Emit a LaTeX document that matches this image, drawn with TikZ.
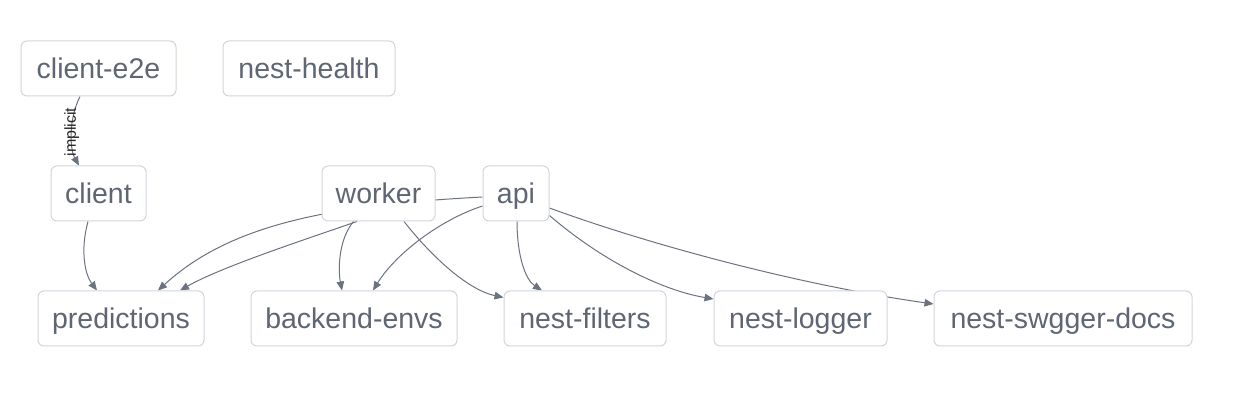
\documentclass[tikz,border=0pt]{standalone}
\usepackage{fontspec}
\setmainfont{Liberation Sans}
\usetikzlibrary{arrows.meta,backgrounds}
\definecolor{txt}{RGB}{95,102,115}
\definecolor{edgec}{RGB}{107,114,128}
\definecolor{bord}{RGB}{209,213,219}
\begin{document}
\begin{tikzpicture}[x=1pt,y=-1pt,
  box/.style={draw=bord,line width=1pt,rounded corners=6pt,fill=white,text=txt,
    font=\fontsize{28.5}{30}\selectfont,inner sep=0pt,text height=23pt,text depth=2pt,minimum height=55pt},
  conn/.style={draw=edgec,line width=1pt,-{Triangle[length=9pt,width=7.5pt]}},
  lbl/.style={font=\fontsize{16}{18}\selectfont,text=black!85,rotate=90,inner sep=0pt}]
\useasboundingbox (0,0) rectangle (1250,419);
\node[box,minimum width=155pt] (ce) at (98.5,68.5) {client-e2e};
\node[box,minimum width=172pt] (nh) at (309,68.5) {nest-health};
\node[box,minimum width=95pt] (cl) at (98.5,193.5) {client};
\node[box,minimum width=113pt] (wk) at (378.5,193.5) {worker};
\node[box,minimum width=66pt] (api) at (516,193.5) {api};
\node[box,minimum width=166pt] (pr) at (121,318.5) {predictions};
\node[box,minimum width=206pt] (be) at (354,318.5) {backend-envs};
\node[box,minimum width=162pt] (nf) at (585,318.5) {nest-filters};
\node[box,minimum width=173pt] (nl) at (800.5,318.5) {nest-logger};
\node[box,minimum width=258pt] (ns) at (1063,318.5) {nest-swgger-docs};
\begin{pgfonlayer}{background}
\draw[conn] ([xshift=-18.5pt]ce.south) .. controls +(-12,24) and +(-9,-16) .. node[lbl,pos=0.5,xshift=2pt]{implicit} ([xshift=-19.5pt]cl.north);
\draw[conn] ([xshift=-10.5pt]cl.south) .. controls +(-8,29) and +(-12,-16) .. ([xshift=-24pt]pr.north);
\draw[conn] ([yshift=-3.5pt]api.west) .. controls +(-153,8) and +(72,-66) .. ([xshift=37pt]pr.north);
\draw[conn] ([xshift=-21.5pt]wk.south) .. controls +(-55,19) and +(40,-23) .. ([xshift=59pt]pr.north);
\draw[conn] ([xshift=-25pt]wk.south) .. controls +(-15,18) and +(-4,-21) .. ([xshift=-12pt]be.north);
\draw[conn] ([xshift=25.5pt]wk.south) .. controls +(26,33) and +(-37,-8) .. ([yshift=21pt]nf.west);
\draw[conn] ([yshift=-12.5pt]api.west) .. controls +(-43,14) and +(22,-36) .. ([xshift=19pt]be.north);
\draw[conn] ([xshift=1pt]api.south) .. controls +(0,33) and +(-17,-11) .. ([xshift=-43pt]nf.north);
\draw[conn] ([yshift=-22pt]api.east) .. controls +(51,44) and +(-53,-9) .. ([yshift=19.5pt]nl.west);
\draw[conn] ([yshift=-14.5pt]api.east) .. controls +(101,37) and +(-134,-19) .. ([yshift=14.5pt]ns.west);
\end{pgfonlayer}
\end{tikzpicture}
\end{document}
